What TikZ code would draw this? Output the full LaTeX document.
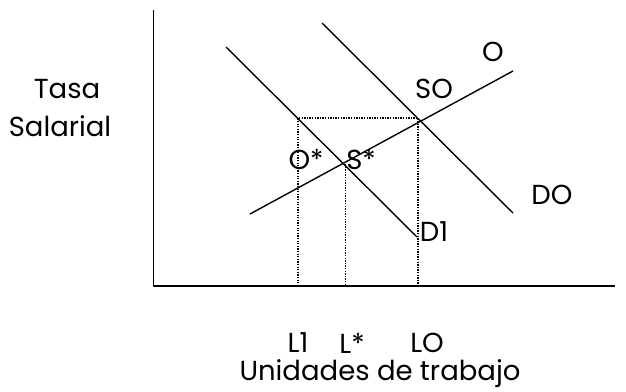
\documentclass[tikz,border=0pt]{standalone}
\usepackage{fontspec}
\setmainfont{Poppins}
\begin{document}
\begin{tikzpicture}[x=1pt,y=-1pt,
  curve/.style={line width=1.4pt,black},
  axis/.style={line width=1.6pt,black},
  guide/.style={line width=1.3pt,dash pattern=on 1.3pt off 1.3pt,black},
  lbl/.style={font=\fontsize{27.5}{30}\selectfont,inner sep=0pt}]
\useasboundingbox (0,0) rectangle (626,391);
% axes
\coordinate (top) at (153.5,10);
\coordinate (org) at (153.5,286);
\coordinate (xend) at (615,286);
\draw[axis] (top) -- (org) -- (xend);
% curves
\coordinate (d1a) at (226,47);
\coordinate (d1b) at (417,237);
\coordinate (doa) at (322,23);
\coordinate (dob) at (513,213);
\coordinate (oa) at (250,214);
\coordinate (ob) at (513,71);
\draw[curve] (d1a) -- (d1b);
\draw[curve] (doa) -- (dob);
\draw[curve] (oa) -- (ob);
% guides
\coordinate (g1) at (298,118);
\coordinate (g2) at (418,118);
\coordinate (g1b) at (298,286);
\coordinate (g2b) at (418,286);
\coordinate (gs) at (345.5,164);
\coordinate (gsb) at (345.5,286);
\draw[guide] (g1b) -- (g1) -- (g2) -- (g2b);
\draw[guide] (gs) -- (gsb);
% labels
\node[lbl] (lO) at (493,52) {O};
\node[lbl] (lSO) at (434,89) {SO};
\node[lbl] (lDO) at (552,195) {DO};
\node[lbl] (lD1) at (434,232) {D1};
\node[lbl] (lOs) at (306,160) {O*};
\node[lbl] (lSs) at (361,160) {S*};
\node[lbl] (lTasa) at (67,89) {Tasa};
\node[lbl] (lSal) at (60,126) {Salarial};
\node[lbl] (lL1) at (298,343) {L1};
\node[lbl] (lLs) at (352,343) {L*};
\node[lbl] (lLO) at (427,343) {LO};
\node[lbl] (lUn) at (380,374) {Unidades de trabajo};
\end{tikzpicture}
\end{document}
